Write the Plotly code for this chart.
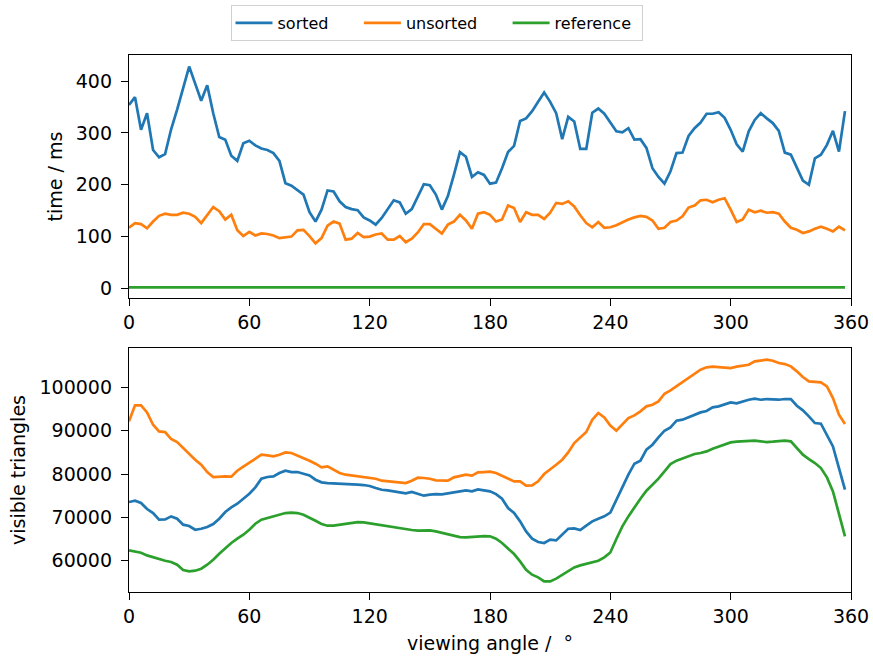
import plotly.graph_objects as go
from plotly.subplots import make_subplots

# viewing angles in degrees (one sample every 3 degrees)
angles = list(range(0, 360, 3))

# time per frame (ms)
time_sorted = [
    354, 369, 306, 338, 267, 253, 259, 307, 345, 385,
    428, 395, 362, 392, 338, 292, 287, 256, 246, 280,
    285, 276, 270, 267, 261, 246, 203, 198, 190, 181,
    147, 129, 152, 189, 187, 168, 157, 153, 151, 137,
    131, 123, 136, 153, 170, 166, 144, 153, 178, 201,
    199, 181, 152, 178, 219, 263, 254, 215, 224, 219,
    202, 204, 232, 263, 275, 323, 328, 342, 360, 378,
    360, 338, 288, 331, 322, 269, 269, 339, 347, 337,
    320, 303, 301, 309, 287, 288, 271, 232, 215, 202,
    226, 261, 262, 294, 309, 320, 337, 337, 340, 329,
    306, 278, 264, 303, 325, 338, 328, 319, 304, 262,
    258, 232, 208, 200, 251, 258, 277, 304, 264, 342,
]
time_unsorted = [
    117, 126, 124, 116, 129, 140, 144, 142, 142, 146,
    144, 138, 126, 142, 157, 149, 133, 142, 112, 101,
    109, 102, 106, 105, 102, 97, 99, 100, 112, 113,
    101, 87, 97, 121, 129, 125, 94, 96, 107, 99,
    100, 104, 106, 94, 94, 101, 89, 96, 108, 124,
    124, 115, 106, 123, 129, 142, 131, 115, 144, 147,
    142, 129, 133, 160, 155, 128, 147, 142, 142, 134,
    146, 165, 163, 168, 158, 141, 126, 118, 128, 117,
    118, 122, 128, 133, 137, 140, 138, 131, 115, 117,
    128, 131, 139, 156, 160, 170, 171, 166, 171, 174,
    152, 128, 133, 152, 147, 150, 146, 147, 144, 129,
    117, 113, 107, 110, 115, 119, 115, 110, 119, 112,
]
time_reference = [
    2.1, 2.1, 2.1, 2.0, 2.0, 2.0, 2.0, 2.0, 1.9, 1.9,
    1.9, 1.9, 1.9, 2.0, 2.0, 2.0, 2.1, 2.1, 2.2, 2.2,
    2.2, 2.3, 2.3, 2.3, 2.3, 2.3, 2.3, 2.3, 2.3, 2.3,
    2.3, 2.3, 2.3, 2.3, 2.3, 2.3, 2.3, 2.3, 2.3, 2.3,
    2.3, 2.3, 2.2, 2.2, 2.2, 2.2, 2.2, 2.2, 2.2, 2.2,
    2.2, 2.2, 2.2, 2.2, 2.2, 2.2, 2.2, 2.2, 2.2, 2.2,
    2.2, 2.2, 2.1, 2.1, 2.0, 2.0, 1.9, 1.8, 1.8, 1.8,
    1.8, 1.8, 1.8, 1.9, 1.9, 1.9, 1.9, 1.9, 2.0, 2.0,
    2.0, 2.1, 2.2, 2.3, 2.4, 2.5, 2.5, 2.6, 2.6, 2.6,
    2.6, 2.7, 2.7, 2.7, 2.7, 2.7, 2.7, 2.7, 2.7, 2.7,
    2.7, 2.7, 2.7, 2.7, 2.7, 2.7, 2.7, 2.7, 2.7, 2.7,
    2.7, 2.7, 2.7, 2.6, 2.6, 2.6, 2.5, 2.4, 2.3, 2.1,
]

# visible triangles
tri_sorted = [
    73540, 73850, 73310, 71920, 71000, 69460, 69540, 70230, 69690, 68310,
    68000, 67150, 67380, 67770, 68460, 69690, 71230, 72310, 73150, 74230,
    75460, 76920, 78920, 79310, 79460, 80230, 80770, 80460, 80460, 80080,
    79690, 78690, 78080, 77920, 77850, 77920, 77770, 77690, 77540, 77460,
    77230, 76770, 76380, 76230, 76000, 75770, 75540, 75850, 75380, 75000,
    75230, 75380, 75310, 75540, 75770, 75920, 76230, 76000, 76460, 76230,
    76000, 75380, 74310, 72150, 71000, 69080, 66770, 65080, 64310, 64080,
    64850, 64690, 66000, 67380, 67460, 67080, 68080, 69080, 69690, 70230,
    71100, 74000, 77150, 79850, 82380, 83080, 85620, 86770, 88460, 90000,
    90770, 92310, 92540, 93080, 93690, 94230, 94540, 95380, 95620, 96000,
    96540, 96310, 96770, 97150, 97380, 97150, 97310, 97150, 97150, 97310,
    97310, 95770, 94690, 93310, 91770, 91620, 88920, 86380, 81380, 76380,
]
tri_unsorted = [
    92150, 95850, 95850, 94230, 91380, 89850, 89690, 88080, 87380, 86000,
    84620, 83310, 82150, 80460, 79310, 79460, 79460, 79380, 80770, 81690,
    82620, 83690, 84460, 84310, 84080, 84460, 85000, 84850, 84310, 83690,
    83080, 82380, 81540, 81770, 81000, 80230, 79850, 79690, 79460, 79310,
    79150, 78920, 78460, 78310, 78080, 77920, 77920, 78460, 79150, 79080,
    78920, 78540, 78460, 78460, 79230, 79460, 79850, 79620, 80380, 80460,
    80540, 80230, 79620, 79080, 78310, 78310, 77310, 77380, 78310, 80000,
    81000, 82150, 83310, 85000, 87150, 88310, 89690, 92540, 94080, 93080,
    91200, 90000, 91380, 92920, 93540, 94460, 95620, 96000, 96770, 98540,
    99310, 100230, 101230, 102150, 103080, 104080, 104620, 104770, 104690, 104620,
    104460, 104770, 105000, 105230, 106000, 106150, 106380, 106150, 105620, 105380,
    104850, 103690, 102380, 101380, 101310, 101150, 100230, 97540, 93690, 91540,
]
tri_reference = [
    62380, 62150, 61850, 61230, 60770, 60380, 60000, 59690, 59080, 57850,
    57540, 57690, 58150, 59080, 60230, 61620, 62920, 64080, 65080, 66000,
    67150, 68540, 69460, 69850, 70230, 70620, 71000, 71080, 71000, 70620,
    70000, 69230, 68460, 68080, 68080, 68310, 68620, 68850, 68920, 68850,
    68620, 68310, 68080, 67920, 67770, 67540, 67310, 67080, 66920, 66920,
    67000, 66770, 66460, 66150, 65770, 65460, 65380, 65540, 65690, 65690,
    65620, 65080, 64080, 62920, 61540, 59850, 57920, 56770, 56150, 55230,
    55230, 55850, 56770, 57690, 58460, 58920, 59310, 59620, 60000, 60770,
    61900, 65000, 67920, 70230, 72310, 74310, 76150, 77540, 78920, 80620,
    82310, 83080, 83540, 84150, 84620, 84850, 85230, 85850, 86380, 86920,
    87310, 87460, 87540, 87690, 87690, 87540, 87380, 87460, 87540, 87690,
    87540, 86000, 84460, 83460, 82540, 81380, 79230, 76000, 71000, 65620,
]

series_names = ["sorted", "unsorted", "reference"]
colors = ["#1f77b4", "#ff7f0e", "#2ca02c"]
x_ticks = [0, 60, 120, 180, 240, 300, 360]
time_ticks = [0, 100, 200, 300, 400]
tri_ticks = [60000, 70000, 80000, 90000, 100000]

NB = "\u00a0"
legend_labels = ["sorted" + NB * 5, "unsorted" + NB * 5, "reference" + NB]

fig = make_subplots(rows=2, cols=1, shared_xaxes=False, vertical_spacing=0.0)

for name, label, col, tvals, trvals in zip(
    series_names, legend_labels, colors,
    [time_sorted, time_unsorted, time_reference],
    [tri_sorted, tri_unsorted, tri_reference],
):
    fig.add_trace(go.Scatter(x=angles, y=tvals, mode="lines", name=label,
                             legendgroup=name, line=dict(color=col, width=2.7)),
                  row=1, col=1)
    fig.add_trace(go.Scatter(x=angles, y=trvals, mode="lines", name=label,
                             legendgroup=name, showlegend=False,
                             line=dict(color=col, width=2.7)),
                  row=2, col=1)

axis_common = dict(
    showline=True, linecolor="black", linewidth=1.4, mirror=True,
    showgrid=False, zeroline=False,
    ticks="outside", ticklen=7, tickwidth=1.4, tickcolor="black",
    tickfont=dict(size=19, color="black"),
    automargin=False,
)

fig.update_xaxes(**axis_common, range=[0, 360], tickmode="array", tickvals=x_ticks)
fig.update_xaxes(row=2, col=1,
                 title=dict(text="viewing angle /  °", font=dict(size=19, color="black"), standoff=10))

fig.update_yaxes(**axis_common)
fig.update_yaxes(row=1, col=1, range=[-18.5, 450.3], tickmode="array", tickvals=time_ticks,
                 domain=[0.5475, 1.0], ticklabelstandoff=5,
                 title=dict(text="time / ms", font=dict(size=19, color="black"), standoff=8))
fig.update_yaxes(row=2, col=1, range=[52776, 109089], tickmode="array", tickvals=tri_ticks,
                 tickformat="d", domain=[0.0, 0.4544], ticklabelstandoff=5,
                 title=dict(text="visible triangles", font=dict(size=19, color="black"), standoff=8))

fig.update_layout(
    width=873, height=660,
    margin=dict(l=129, r=22, t=55, b=68),
    template="none",
    paper_bgcolor="white", plot_bgcolor="white",
    font=dict(family="DejaVu Sans", size=19, color="black"),
    legend=dict(
        orientation="h", xref="container", yref="container",
        x=0.5, xanchor="center", y=1 - 5 / 660, yanchor="top",
        itemwidth=37,
        font=dict(size=16, color="black"),
        bgcolor="rgba(255,255,255,0.8)", bordercolor="#d0d0d0", borderwidth=1,
    ),
    showlegend=True,
)

fig.write_html("out.html", config={"displayModeBar": False},
               post_script="document.body.style.margin='0px';document.body.style.overflow='hidden';")
